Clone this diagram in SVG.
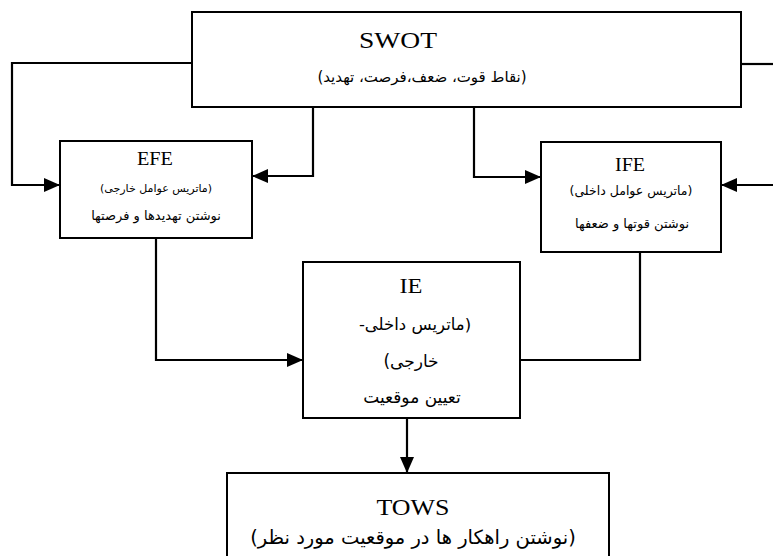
<svg xmlns="http://www.w3.org/2000/svg" width="773" height="556" viewBox="0 0 773 556">
<style>
.box{fill:#fff;stroke:#000;stroke-width:2}
.ln{fill:none;stroke:#000;stroke-width:2.2}
.lat{font-family:"Liberation Serif","Times New Roman",serif;text-anchor:middle;fill:#000}
.fa{font-family:"DejaVu Sans","Noto Sans",sans-serif;text-anchor:middle;fill:#000;direction:rtl;unicode-bidi:embed}
</style>
<defs>
<marker id="ah" markerUnits="userSpaceOnUse" markerWidth="16" markerHeight="14" viewBox="0 0 16 14" refX="16" refY="7" orient="auto">
<path d="M0,0 L16,7 L0,14 Z" fill="#000"/>
</marker>
</defs>
<g id="connectors">
<path class="ln" d="M192,63 H12 V185 H60" marker-end="url(#ah)"/>
<path class="ln" d="M313,107 V176 H252" marker-end="url(#ah)"/>
<path class="ln" d="M474,107 V177 H541" marker-end="url(#ah)"/>
<path class="ln" d="M741,64 H773"/>
<path class="ln" d="M773,185 H721" marker-end="url(#ah)"/>
<path class="ln" d="M156,238 V360 H303" marker-end="url(#ah)"/>
<path class="ln" d="M640,252 V360 H520"/>
<path class="ln" d="M407,418 V473" marker-end="url(#ah)"/>
</g>
<g id="swot">
<rect class="box" x="192" y="12" width="549" height="95"/>
<text class="lat" x="398" y="48" font-size="24" textLength="78" lengthAdjust="spacingAndGlyphs">SWOT</text>
<text class="fa" x="422" y="82" font-size="15">(نقاط قوت، ضعف،فرصت، تهدید)</text>
</g>
<g id="efe">
<rect class="box" x="60" y="141" width="192" height="97"/>
<text class="lat" x="155" y="165" font-size="18" textLength="36" lengthAdjust="spacingAndGlyphs">EFE</text>
<text class="fa" x="156" y="192" font-size="11">(ماتریس عوامل خارجی)</text>
<text class="fa" x="156" y="220" font-size="13">نوشتن تهدیدها و فرصتها</text>
</g>
<g id="ife">
<rect class="box" x="541" y="142" width="180" height="110"/>
<text class="lat" x="630" y="171" font-size="18" textLength="30" lengthAdjust="spacingAndGlyphs">IFE</text>
<text class="fa" x="631" y="195" font-size="12.5">(ماتریس عوامل داخلی)</text>
<text class="fa" x="632" y="228" font-size="13">نوشتن قوتها و ضعفها</text>
</g>
<g id="ie">
<rect class="box" x="303" y="262" width="217" height="156"/>
<text class="lat" x="411" y="293" font-size="21" textLength="23" lengthAdjust="spacingAndGlyphs">IE</text>
<text class="fa" x="415" y="330" font-size="16.5">(ماتریس داخلی-</text>
<text class="fa" x="411" y="367" font-size="17">خارجی)</text>
<text class="fa" x="412" y="403" font-size="17">تعیین موقعیت</text>
</g>
<g id="tows">
<rect class="box" x="227" y="473" width="382" height="100"/>
<text class="lat" x="413" y="515" font-size="24" textLength="73" lengthAdjust="spacingAndGlyphs">TOWS</text>
<text class="fa" x="413" y="544" font-size="19.5">(نوشتن راهکار ها در موقعیت مورد نظر)</text>
</g>
</svg>
